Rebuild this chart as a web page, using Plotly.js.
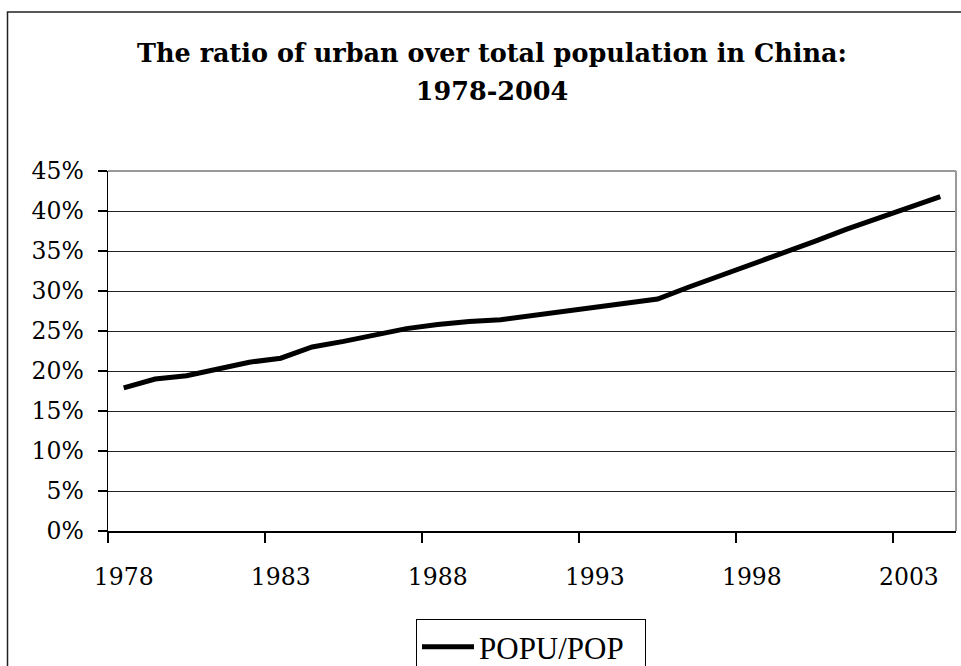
<!DOCTYPE html>
<html>
<head>
<meta charset="utf-8">
<script src="https://cdn.plot.ly/plotly-3.0.1.min.js"></script>
<style>html,body{margin:0;padding:0;background:#fff;overflow:hidden;}#chart{width:961px;height:700px;}</style>
</head>
<body>
<div id="chart"></div>
<script>
// Data
var years = [1978,1979,1980,1981,1982,1983,1984,1985,1986,1987,1988,1989,1990,1991,
             1992,1993,1994,1995,1996,1997,1998,1999,2000,2001,2002,2003,2004];
var ratio = [17.9,19.0,19.4,20.2,21.1,21.6,23.0,23.7,24.5,25.3,25.8,26.2,26.4,26.9,
             27.5,28.0,28.5,29.0,30.5,31.9,33.4,34.8,36.2,37.7,39.1,40.5,41.8];
var xTickVals = [1978,1983,1988,1993,1998,2003];
var xTickText = ['1978','1983','1988','1993','1998','2003'];
var xTickMarks = [1977.5,1982.5,1987.5,1992.5,1997.5,2002.5];
var yTickVals = [0,5,10,15,20,25,30,35,40,45];
var yTickText = ['0%','5%','10%','15%','20%','25%','30%','35%','40%','45%'];
var seriesName = 'POPU/POP';
var titleLine1 = 'The ratio of urban over total population in China:';
var titleLine2 = '1978-2004';

// Figure is drawn a little taller than the window so the legend box is cut at the bottom edge
var W = 961, H = 700;
var L = 108, R = 5, T = 171, B = H - 531;
var pw = W - L - R, ph = H - T - B;
function px(x){ return (x - L) / pw; }
function py(y){ return (H - B - y) / ph; }

var titleSpan = function(s){ return '<span style="font-size:25.5px">' + s + '</span>'; };

var trace = {
  x: years, y: ratio, type: 'scatter', mode: 'lines', name: seriesName,
  line: {color: '#000000', width: 5}
};

var layout = {
  width: W, height: H,
  margin: {l: L, r: R, t: T, b: B, pad: 0},
  paper_bgcolor: '#ffffff', plot_bgcolor: '#ffffff',
  title: {
    text: titleSpan(titleLine1) + '<br>' + titleSpan(titleLine2),
    font: {family: 'DejaVu Serif', size: 29, color: '#000000', weight: 'bold'},
    x: 492 / W, xref: 'container', xanchor: 'center',
    y: 1 - 62/H, yref: 'container', yanchor: 'top'
  },
  xaxis: {
    range: [1977.5, 2004.5], fixedrange: true,
    tickvals: xTickVals, ticktext: xTickText, ticks: '',
    showgrid: false, zeroline: false,
    showline: true, linecolor: '#000000', linewidth: 1.5,
    tickfont: {family: 'DejaVu Serif', size: 23.5, color: '#000000'},
    ticklabelstandoff: 24,
    minor: {tickvals: xTickMarks, ticks: 'outside', ticklen: 10, tickcolor: '#000000', tickwidth: 1.5, showgrid: false}
  },
  yaxis: {
    range: [0, 45], fixedrange: true,
    tickvals: yTickVals, ticktext: yTickText,
    ticks: 'outside', ticklen: 9, tickcolor: '#000000', tickwidth: 1.5,
    showgrid: true, gridcolor: '#222222', gridwidth: 1,
    zeroline: false,
    showline: true, linecolor: '#000000', linewidth: 1.5,
    tickfont: {family: 'DejaVu Serif', size: 23.5, color: '#000000'},
    ticklabelstandoff: 9
  },
  showlegend: true,
  legend: {
    x: px(531), xanchor: 'center', y: py(619), yanchor: 'top',
    orientation: 'h', itemwidth: 52, entrywidth: 161,
    bgcolor: '#ffffff', bordercolor: '#000000', borderwidth: 1,
    font: {family: 'Liberation Serif', size: 31, color: '#000000'}
  },
  shapes: [
    {type: 'line', xref: 'paper', yref: 'paper', x0: 0, x1: 1, y0: 1, y1: 1,
     line: {color: '#999999', width: 2}},
    {type: 'line', xref: 'paper', yref: 'paper', x0: 1, x1: 1, y0: 0, y1: 1,
     line: {color: '#999999', width: 2}},
    {type: 'rect', xref: 'paper', yref: 'paper',
     x0: px(7.5), x1: px(1000), y0: py(12), y1: py(760),
     line: {color: '#222222', width: 1.5}, fillcolor: 'rgba(0,0,0,0)'}
  ]
};

Plotly.newPlot('chart', [trace], layout, {displayModeBar: false, staticPlot: true});
</script>
</body>
</html>
